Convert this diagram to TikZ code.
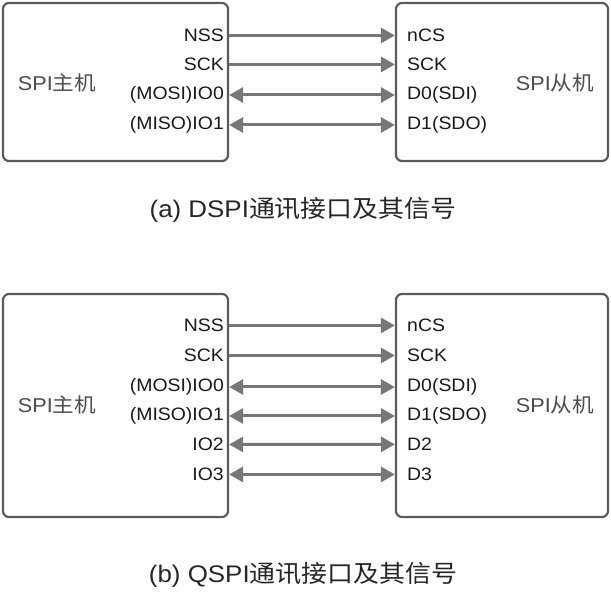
\documentclass[tikz,border=0pt]{standalone}
\usepackage{fontspec}
\setmainfont{Liberation Sans}[FakeStretch=1.08]
\newfontfamily\cjk{Noto Sans CJK SC}[FakeStretch=1.08]
\usetikzlibrary{arrows.meta}

\definecolor{boxgray}{HTML}{5A5A5A}
\definecolor{wiregray}{HTML}{777777}

\tikzset{
    devbox/.style={draw=boxgray, line width=2.2pt, rounded corners=6pt, inner sep=0pt},
    pinl/.style={anchor=mid east, inner sep=0pt, font=\fontsize{18}{21}\selectfont, text=black!90},
    pinr/.style={anchor=mid west, inner sep=0pt, font=\fontsize{18}{21}\selectfont, text=black!90},
    devname/.style={font=\fontsize{20}{23}\selectfont, text=black!70},
    caption/.style={font=\fontsize{24}{28}\selectfont, text=black!85},
    wire/.style={draw=wiregray, line width=3pt, -{Triangle[length=14pt,width=15pt]}},
    biwire/.style={wire, {Triangle[length=14pt,width=15pt]}-{Triangle[length=14pt,width=15pt]}}
}

\begin{document}
\begin{tikzpicture}[x=1pt,y=-1pt]
    \useasboundingbox (0,0) rectangle (611,600);

    % (a) DSPI
    \node[devbox, minimum width=225pt, minimum height=158pt] (ma) at (115.5,82) {};
    \node[devbox, minimum width=212pt, minimum height=158pt] (sa) at (502,82) {};
    \node[devname] (man) at (57,83) {SPI{\cjk 主机}};
    \node[devname] (san) at (555,83) {SPI{\cjk 从机}};

    \node[pinl] (ma1) at (224,39) {NSS};
    \node[pinl] (ma2) at (224,68) {SCK};
    \node[pinl] (ma3) at (224,97) {(MOSI)IO0};
    \node[pinl] (ma4) at (224,127) {(MISO)IO1};
    \node[pinr] (sa1) at (407,39) {nCS};
    \node[pinr] (sa2) at (407,68) {SCK};
    \node[pinr] (sa3) at (407,97) {D0(SDI)};
    \node[pinr] (sa4) at (407,127) {D1(SDO)};

    \draw[wire] (ma.east |- ma1) -- (sa.west |- sa1);
    \draw[wire] (ma.east |- ma2) -- (sa.west |- sa2);
    \draw[biwire] (ma.east |- ma3) -- (sa.west |- sa3);
    \draw[biwire] (ma.east |- ma4) -- (sa.west |- sa4);

    \node[caption] (capa) at (303,210) {(a) DSPI{\cjk 通讯接口及其信号}};

    % (b) QSPI
    \node[devbox, minimum width=225pt, minimum height=223pt] (mb) at (115.5,405.5) {};
    \node[devbox, minimum width=212pt, minimum height=223pt] (sb) at (502,405.5) {};
    \node[devname] (mbn) at (57,405) {SPI{\cjk 主机}};
    \node[devname] (sbn) at (555,405) {SPI{\cjk 从机}};

    \node[pinl] (mb1) at (224,329) {NSS};
    \node[pinl] (mb2) at (224,359) {SCK};
    \node[pinl] (mb3) at (224,389) {(MOSI)IO0};
    \node[pinl] (mb4) at (224,418) {(MISO)IO1};
    \node[pinl] (mb5) at (224,448) {IO2};
    \node[pinl] (mb6) at (224,478) {IO3};
    \node[pinr] (sb1) at (407,329) {nCS};
    \node[pinr] (sb2) at (407,359) {SCK};
    \node[pinr] (sb3) at (407,389) {D0(SDI)};
    \node[pinr] (sb4) at (407,418) {D1(SDO)};
    \node[pinr] (sb5) at (407,448) {D2};
    \node[pinr] (sb6) at (407,478) {D3};

    \draw[wire] (mb.east |- mb1) -- (sb.west |- sb1);
    \draw[wire] (mb.east |- mb2) -- (sb.west |- sb2);
    \draw[biwire] (mb.east |- mb3) -- (sb.west |- sb3);
    \draw[biwire] (mb.east |- mb4) -- (sb.west |- sb4);
    \draw[biwire] (mb.east |- mb5) -- (sb.west |- sb5);
    \draw[biwire] (mb.east |- mb6) -- (sb.west |- sb6);

    \node[caption] (capb) at (303,575) {(b) QSPI{\cjk 通讯接口及其信号}};
\end{tikzpicture}
\end{document}
